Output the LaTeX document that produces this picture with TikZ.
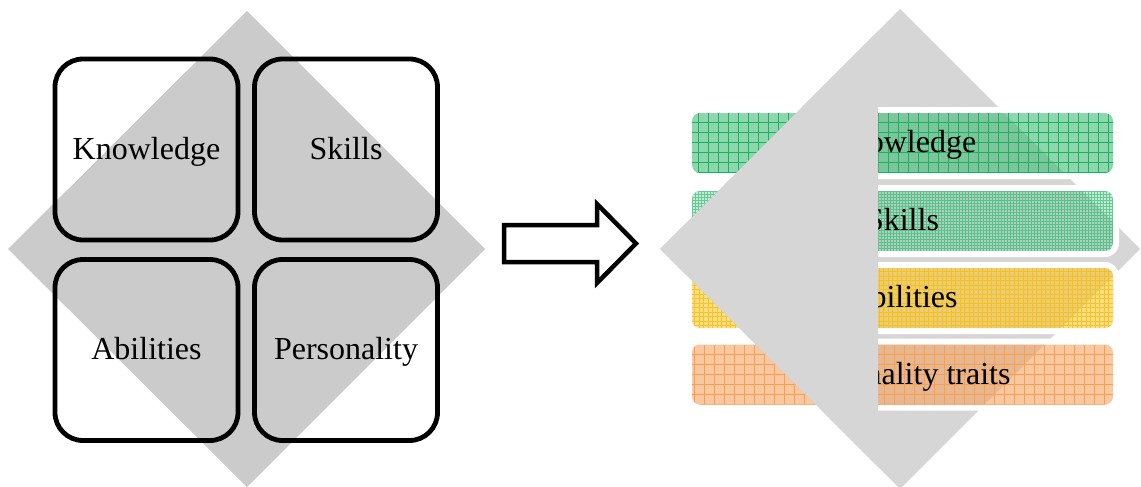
\documentclass[tikz,border=0pt]{standalone}
\usepackage{fontspec}
\setmainfont{Liberation Serif}
\definecolor{diamondl}{HTML}{CBCBCB}
\definecolor{diamondr}{HTML}{D6D6D6}
\definecolor{kfill}{RGB}{63,188,117}
\definecolor{kline}{RGB}{30,176,100}
\definecolor{sfill}{RGB}{110,205,150}
\definecolor{sline}{RGB}{40,180,110}
\definecolor{afill}{RGB}{252,200,47}
\definecolor{aline}{RGB}{245,190,20}
\definecolor{pfill}{RGB}{247,163,97}
\definecolor{pline}{RGB}{246,160,80}

\begin{document}
\begin{tikzpicture}[x=1pt,y=-1pt,
	box/.style={ draw, line width=4.8pt, rounded corners=28pt, minimum width=183pt, minimum height=181pt, inner sep=0pt, text height=22pt, text depth=3pt, font=\fontsize{32}{36}\selectfont },
	bar/.style={ rounded corners=8pt, minimum width=421pt, minimum height=60pt, inner sep=0pt, fill opacity=0.6, text opacity=1, text height=22pt, text depth=3pt, font=\fontsize{32}{36}\selectfont },
	bark/.style={ bar, fill=kfill, path picture={\draw[kline, line width=1pt, step=10pt] (path picture bounding box.south west) grid (path picture bounding box.north east);} },
	bars/.style={ bar, fill=sfill, fill opacity=0.4, path picture={\draw[sline, line width=0.6pt, draw opacity=0.6, step=3pt] (path picture bounding box.south west) grid (path picture bounding box.north east);} },
	bara/.style={ bar, fill=afill, path picture={\draw[aline, line width=0.6pt, draw opacity=0.8, step=4.5pt] (path picture bounding box.south west) grid (path picture bounding box.north east);} },
	barp/.style={ bar, fill=pfill, path picture={\draw[pline, line width=1pt, step=10pt] (path picture bounding box.south west) grid (path picture bounding box.north east);} }
]

\useasboundingbox (0,0) rectangle (1141,487);
\fill[diamondl] (247,11) -- (485,249) -- (247,487) -- (8,249) -- cycle;
\node at (146.5,149.5) (knowledge) [box] {Knowledge};
\node at (346,149.5) (skills) [box] {Skills};
\node at (146.5,350) (abilities) [box] {Abilities};
\node at (346,350) (personality) [box] {Personality};

\draw[line width=4.5pt, fill=white] (504,225) -- (597,225) -- (597,204) -- (636,243.5) -- (597,283) -- (597,262) -- (504,262) -- cycle;

\fill[diamondr] (900,9) -- (1140,249) -- (900,489) -- (660,249) -- cycle;
\foreach \y/\n/\s/\t in {143/barK/bark/Knowledge, 221/barS/bars/Skills, 298/barA/bara/Abilities, 374.5/barP/barp/Personality traits} {
	\fill[white, even odd rule, rounded corners=14pt] (686,\y-36) rectangle (1119,\y+36) [rounded corners=8pt] (692,\y-30) rectangle (1113,\y+30);
	\node at (902.5,\y) (\n) [\s] {\t};
}
\begin{scope}
	\clip (650,0) rectangle (878,487);
	\fill[diamondr] (900,9) -- (1140,249) -- (900,489) -- (660,249) -- cycle;
\end{scope}

\end{tikzpicture}
\end{document}
